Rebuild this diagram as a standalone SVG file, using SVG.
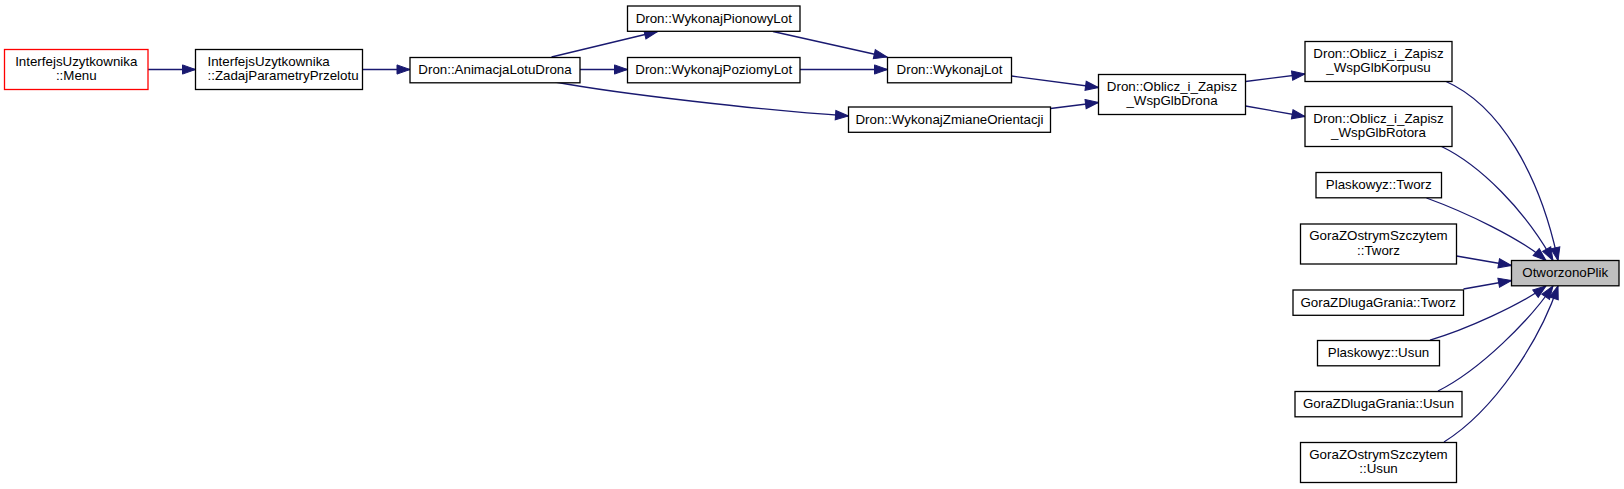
<svg xmlns="http://www.w3.org/2000/svg" width="1624" height="489" viewBox="0 0 1624 489">
<defs>
<marker id="ah" markerUnits="userSpaceOnUse" markerWidth="16" markerHeight="12" refX="13" refY="4.6" orient="auto" overflow="visible">
<polygon points="0,0 13,4.6 0,9.2" fill="#191970" stroke="#191970" stroke-width="1"/>
</marker>
<style>
.n rect{fill:#fff;stroke:#000;stroke-width:1.3}
.n.red rect{stroke:#ff0000}
.n.root rect{fill:#bfbfbf}
text{font-family:"Liberation Sans",Arial,Helvetica,sans-serif;font-size:13.33px;fill:#000;text-anchor:middle}
.e path{fill:none;stroke:#191970;stroke-width:1.3;marker-end:url(#ah)}
</style>
</defs>
<rect width="1624" height="489" fill="#fff"/>
<g id="edges" class="e">
<path d="M148,69.5 L195.5,69.5"/>
<path d="M362.5,69.5 L410,69.5"/>
<path d="M551.5,57 L657.5,31.5"/>
<path d="M580,69.5 L627.5,69.5"/>
<path d="M773,31.5 L887,57"/>
<path d="M800,69.5 L887.5,69.5"/>
<path d="M555,82 C620,94 760,110 848.5,116"/>
<path d="M1011.5,76 L1098.5,87.5"/>
<path d="M1050.5,108.5 L1098.5,102.5"/>
<path d="M1245.5,81.5 L1305,74"/>
<path d="M1245.5,106 L1305,116.5"/>
<path d="M1445,81 C1500,105 1540,175 1558,260.5"/>
<path d="M1441.5,146.5 C1480,165 1525,210 1553,260.5"/>
<path d="M1426.5,198 C1465,212 1520,238 1546,260.5"/>
<path d="M1456.5,256 L1511.5,265.5"/>
<path d="M1463.5,289 L1511.5,280.5"/>
<path d="M1430,340 C1465,330 1520,305 1546,286"/>
<path d="M1438,391 C1480,370 1530,320 1553,286"/>
<path d="M1444,442 C1495,410 1540,340 1558,286"/>
</g>
<g id="n_menu" class="n red"><rect x="4.5" y="49.5" width="143.5" height="40"/><text x="76.25" y="65.5">InterfejsUzytkownika</text><text x="76.25" y="80.2">::Menu</text></g>
<g id="n_zadaj" class="n"><rect x="195.5" y="49.5" width="167" height="40"/><text x="207.5" y="65.5" style="text-anchor:start">InterfejsUzytkownika</text><text x="207.5" y="80.2" style="text-anchor:start">::ZadajParametryPrzelotu</text></g>
<g id="n_animacja" class="n"><rect x="410" y="57.5" width="170" height="25.3"/><text x="495" y="74">Dron::AnimacjaLotuDrona</text></g>
<g id="n_pionowy" class="n"><rect x="627.5" y="6" width="172.5" height="25.3"/><text x="713.75" y="22.5">Dron::WykonajPionowyLot</text></g>
<g id="n_poziomy" class="n"><rect x="627.5" y="57.5" width="172.5" height="25.3"/><text x="713.75" y="74">Dron::WykonajPoziomyLot</text></g>
<g id="n_lot" class="n"><rect x="887.5" y="57.5" width="124" height="25.3"/><text x="949.5" y="74">Dron::WykonajLot</text></g>
<g id="n_zmiane" class="n"><rect x="848.5" y="107" width="202" height="25.3"/><text x="949.5" y="123.5">Dron::WykonajZmianeOrientacji</text></g>
<g id="n_drona" class="n"><rect x="1098.5" y="74.5" width="147" height="40"/><text x="1172" y="90.5">Dron::Oblicz_i_Zapisz</text><text x="1172" y="105.2">_WspGlbDrona</text></g>
<g id="n_korpusu" class="n"><rect x="1305" y="41.5" width="147" height="40"/><text x="1378.5" y="57.5">Dron::Oblicz_i_Zapisz</text><text x="1378.5" y="72.2">_WspGlbKorpusu</text></g>
<g id="n_rotora" class="n"><rect x="1305" y="106.5" width="147" height="40"/><text x="1378.5" y="122.5">Dron::Oblicz_i_Zapisz</text><text x="1378.5" y="137.2">_WspGlbRotora</text></g>
<g id="n_plask_tworz" class="n"><rect x="1316" y="172.5" width="125.5" height="25.3"/><text x="1378.75" y="189">Plaskowyz::Tworz</text></g>
<g id="n_ostry_tworz" class="n"><rect x="1300.5" y="224" width="156" height="40"/><text x="1378.5" y="240">GoraZOstrymSzczytem</text><text x="1378.5" y="254.7">::Tworz</text></g>
<g id="n_otworzono" class="n root"><rect x="1511.5" y="260.5" width="107.5" height="25.3"/><text x="1565.25" y="277">OtworzonoPlik</text></g>
<g id="n_dluga_tworz" class="n"><rect x="1293" y="290" width="170.5" height="25.3"/><text x="1378.25" y="306.5">GoraZDlugaGrania::Tworz</text></g>
<g id="n_plask_usun" class="n"><rect x="1317.5" y="340.5" width="122" height="25.3"/><text x="1378.5" y="357">Plaskowyz::Usun</text></g>
<g id="n_dluga_usun" class="n"><rect x="1295" y="391.5" width="167" height="25.3"/><text x="1378.5" y="408">GoraZDlugaGrania::Usun</text></g>
<g id="n_ostry_usun" class="n"><rect x="1300.5" y="442.5" width="156" height="40"/><text x="1378.5" y="458.5">GoraZOstrymSzczytem</text><text x="1378.5" y="473.2">::Usun</text></g>
</svg>
